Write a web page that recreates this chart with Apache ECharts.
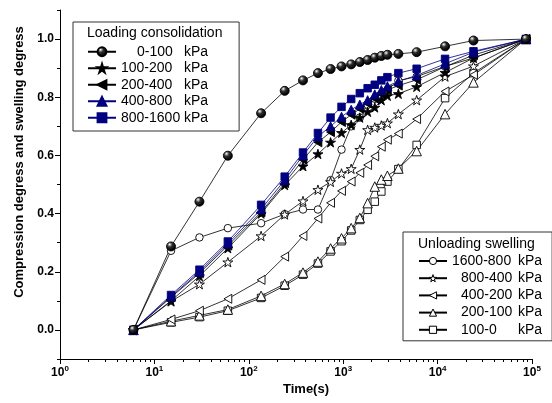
<!DOCTYPE html>
<html><head><meta charset="utf-8">
<script src="https://cdn.jsdelivr.net/npm/echarts@6/dist/echarts.min.js"></script>
<style>html,body{margin:0;padding:0;background:#fff}#c{width:552px;height:403px}</style>
</head><body><div id="c"></div>
<script>
// ---- data ----
const times = [6, 15, 30, 60, 135, 240, 375, 540, 735, 960, 1215, 1500, 1815, 2160, 2535, 2940, 3840, 6000, 12000, 24000, 86400];
const load_0_100     = [0, 0.287, 0.441, 0.599, 0.745, 0.822, 0.858, 0.883, 0.897, 0.906, 0.913, 0.921, 0.928, 0.936, 0.942, 0.946, 0.949, 0.955, 0.975, 0.995, 1.0];
const load_100_200   = [0, 0.100, 0.185, 0.281, 0.400, 0.498, 0.563, 0.605, 0.645, 0.678, 0.705, 0.730, 0.750, 0.765, 0.790, 0.805, 0.812, 0.836, 0.885, 0.935, 1.0];
const load_200_400   = [0, 0.112, 0.195, 0.290, 0.405, 0.505, 0.585, 0.645, 0.680, 0.715, 0.740, 0.760, 0.778, 0.795, 0.810, 0.825, 0.840, 0.860, 0.905, 0.945, 1.0];
const load_400_800   = [0, 0.115, 0.200, 0.297, 0.415, 0.515, 0.600, 0.665, 0.700, 0.733, 0.757, 0.775, 0.790, 0.810, 0.825, 0.838, 0.855, 0.875, 0.915, 0.955, 1.0];
const load_800_1600  = [0, 0.120, 0.207, 0.304, 0.430, 0.527, 0.610, 0.677, 0.730, 0.767, 0.794, 0.814, 0.831, 0.843, 0.858, 0.869, 0.883, 0.898, 0.932, 0.958, 1.0];
const unl_1600_800   = [0, 0.272, 0.318, 0.350, 0.367, 0.398, 0.414, 0.414, 0.515, 0.620, 0.700, 0.730, 0.774, 0.795, 0.808, 0.826, 0.857, 0.871, 0.906, 0.935, 1.0];
const unl_800_400    = [0, 0.098, 0.157, 0.233, 0.323, 0.397, 0.443, 0.482, 0.509, 0.538, 0.554, 0.620, 0.688, 0.696, 0.703, 0.711, 0.742, 0.790, 0.871, 0.907, 1.0];
const unl_400_200    = [0, 0.036, 0.066, 0.107, 0.172, 0.252, 0.323, 0.383, 0.437, 0.478, 0.510, 0.540, 0.567, 0.597, 0.630, 0.654, 0.675, 0.725, 0.820, 0.877, 1.0];
const unl_200_100    = [0, 0.030, 0.050, 0.070, 0.117, 0.158, 0.197, 0.235, 0.280, 0.315, 0.350, 0.385, 0.436, 0.493, 0.517, 0.530, 0.555, 0.615, 0.742, 0.851, 1.0];
const unl_100_0      = [0, 0.026, 0.044, 0.066, 0.110, 0.152, 0.190, 0.228, 0.270, 0.305, 0.342, 0.378, 0.413, 0.441, 0.476, 0.510, 0.553, 0.636, 0.797, 0.883, 1.0];

const loadLabels   = ['0-100', '100-200', '200-400', '400-800', '800-1600'];
const unloadLabels = ['1600-800', '800-400', '400-200', '200-100', '100-0'];
const yTickValues  = [0, 0.2, 0.4, 0.6, 0.8, 1.0];
const yMinorValues = [-0.1, 0.1, 0.3, 0.5, 0.7, 0.9, 1.1];
const xMinorMantissa = [2, 3, 4, 5, 6, 7, 8, 9];

// ---- styles ----
const FONT = 'Liberation Sans, Arial, sans-serif';
const NAVY = '#000080';
const STAR = 'path://M50,0L61.17,34.63L97.55,34.55L68.07,55.87L79.39,90.45L50,69L20.61,90.45L31.93,55.87L2.45,34.55L38.83,34.63Z';
const LTRI = 'path://M0,50L87,0L87,100Z';
const sphere = {type: 'radial', x: 0.36, y: 0.3, r: 0.62, colorStops: [
  {offset: 0, color: '#ffffff'}, {offset: 0.15, color: '#b0b0b0'}, {offset: 0.42, color: '#303030'}, {offset: 1, color: '#000000'}]};

function pairs(vals) { return times.map((t, i) => [t, vals[i]]); }

function mk(name, vals, symbol, size, fill, border, lineColor) {
  return {
    name: name, type: 'line', data: pairs(vals),
    symbol: symbol, symbolSize: size, symbolKeepAspect: true,
    showAllSymbol: true, clip: false, animation: false,
    lineStyle: {color: lineColor, width: 0.8},
    itemStyle: {color: fill, borderColor: border, borderWidth: 0.9},
    emphasis: {disabled: true}
  };
}

const loadNames = loadLabels.map(l => l + ' kPa');
const unloadNames = unloadLabels.map(l => l + ' kPa');

const series = [
  mk(unloadNames[4], unl_100_0,   'rect',     7.5, '#fff', '#000', '#000'),
  mk(unloadNames[3], unl_200_100, 'triangle', 9.5, '#fff', '#000', '#000'),
  mk(unloadNames[2], unl_400_200, LTRI,       9,   '#fff', '#000', '#000'),
  mk(unloadNames[0], unl_1600_800,'circle',   7.5, '#fff', '#000', '#000'),
  mk(unloadNames[1], unl_800_400, STAR,       10,  '#fff', '#000', '#000'),
  mk(loadNames[1], load_100_200,  STAR,       10,  '#000', '#000', '#000'),
  mk(loadNames[2], load_200_400,  LTRI,       9,   '#000', '#000', '#000'),
  mk(loadNames[3], load_400_800,  'triangle', 9,   NAVY,   NAVY,   NAVY),
  mk(loadNames[4], load_800_1600, 'rect',     7.5, NAVY,   NAVY,   NAVY),
  mk(loadNames[0], load_0_100,    'circle',   9,   sphere, '#000', '#000')
];

const hollowLegend = {color: '#fff', borderColor: '#000', borderWidth: 1};

const chart = echarts.init(document.getElementById('c'), null, {renderer: 'canvas'});
chart.setOption({
  backgroundColor: '#fff',
  animation: false,
  textStyle: {fontFamily: FONT},
  title: [
    {text: 'Loading consolidation', left: 87, top: 26, padding: 0,
     textStyle: {fontFamily: FONT, fontSize: 14, fontWeight: 'normal', color: '#000'}},
    {text: 'Unloading swelling', left: 418, top: 237, padding: 0,
     textStyle: {fontFamily: FONT, fontSize: 14, fontWeight: 'normal', color: '#000'}}
  ],
  legend: [
    {
      data: loadNames, orient: 'vertical', left: 73, top: 22,
      padding: [21.5, 31, 5, 14], itemGap: 0, itemWidth: 28, itemHeight: 11,
      borderColor: '#333', borderWidth: 1, selectedMode: false,
      backgroundColor: '#fff',
      formatter: function (name) {
        const lab = name.replace(' kPa', '');
        return (lab === '0-100' ? '{np|' : '{n|') + lab + '}{k|kPa}';
      },
      textStyle: {fontFamily: FONT, fontSize: 14, color: '#000', lineHeight: 16.5,
        rich: {n: {width: 63, fontSize: 14, fontFamily: FONT, lineHeight: 16.5},
               np: {width: 47, padding: [0, 0, 0, 16], fontSize: 14, fontFamily: FONT, lineHeight: 16.5},
               k: {fontSize: 14, fontFamily: FONT, lineHeight: 16.5}}}
    },
    {
      data: unloadNames.map(n => ({name: n, itemStyle: hollowLegend})),
      orient: 'vertical', left: 403, top: 232,
      padding: [20.4, 10, 2.4, 15], itemGap: 0, itemWidth: 28, itemHeight: 9,
      borderColor: '#333', borderWidth: 1, selectedMode: false,
      backgroundColor: '#fff',
      formatter: function (name) {
        const lab = name.replace(' kPa', '');
        return (lab === '1600-800' ? '{n|' : '{np|') + lab + '}{k|kPa}';
      },
      textStyle: {fontFamily: FONT, fontSize: 14, color: '#000', lineHeight: 17.2,
        rich: {n: {width: 66, fontSize: 14, fontFamily: FONT, lineHeight: 17.2},
               np: {width: 57, padding: [0, 0, 0, 9], fontSize: 14, fontFamily: FONT, lineHeight: 17.2},
               k: {fontSize: 14, fontFamily: FONT, lineHeight: 17.2}}}
    }
  ],
  grid: {left: 60, right: 20, top: 10, bottom: 44, containLabel: false},
  xAxis: [
    {
      type: 'log', logBase: 10, min: 1, max: 100000, interval: 1,
      position: 'bottom',
      name: 'Time(s)', nameLocation: 'middle', nameGap: 18,
      nameTextStyle: {fontFamily: FONT, fontSize: 13, fontWeight: 'bold', color: '#000', padding: [0, 0, 0, 20]},
      axisLine: {onZero: false, lineStyle: {color: '#000', width: 1}},
      axisTick: {show: true, inside: false, length: 5, lineStyle: {color: '#000'}},
      axisLabel: {margin: 6, color: '#000',
        formatter: function (v) { return '{b|10}{s|' + Math.round(Math.log10(v)) + '}'; },
        rich: {b: {fontFamily: FONT, fontSize: 12, fontWeight: 'bold', color: '#000'},
               s: {fontFamily: FONT, fontSize: 8, fontWeight: 'bold', color: '#000', padding: [0, 0, 7, 0]}}},
      splitLine: {show: false}
    },
    {
      type: 'value', min: 0, max: 5, position: 'bottom',
      axisLine: {show: false, onZero: false},
      axisTick: {show: true, length: 3, lineStyle: {color: '#000'},
        customValues: (function () { const a = []; for (let d = 0; d < 5; d++) xMinorMantissa.forEach(m => a.push(d + Math.log10(m))); return a; })()},
      axisLabel: {show: false},
      splitLine: {show: false}
    }
  ],
  yAxis: [
    {
      type: 'value', min: -0.1, max: 1.1, position: 'left',
      name: 'Compression degress and swelling degress', nameLocation: 'middle', nameGap: 33,
      nameTextStyle: {fontFamily: FONT, fontSize: 13, fontWeight: 'bold', color: '#000', padding: [0, 0, 0, 45]},
      axisLine: {onZero: false, lineStyle: {color: '#000', width: 1}},
      axisTick: {show: true, length: 5, lineStyle: {color: '#000'}, customValues: yTickValues},
      axisLabel: {margin: 6, color: '#000', fontFamily: FONT, fontSize: 12, fontWeight: 'bold',
        customValues: yTickValues, formatter: v => v.toFixed(1)},
      splitLine: {show: false}
    },
    {
      type: 'value', min: -0.1, max: 1.1, position: 'left',
      axisLine: {show: false, onZero: false},
      axisTick: {show: true, length: 3, lineStyle: {color: '#000'}, customValues: yMinorValues},
      axisLabel: {show: false},
      splitLine: {show: false}
    }
  ],
  series: series
});
</script></body></html>
